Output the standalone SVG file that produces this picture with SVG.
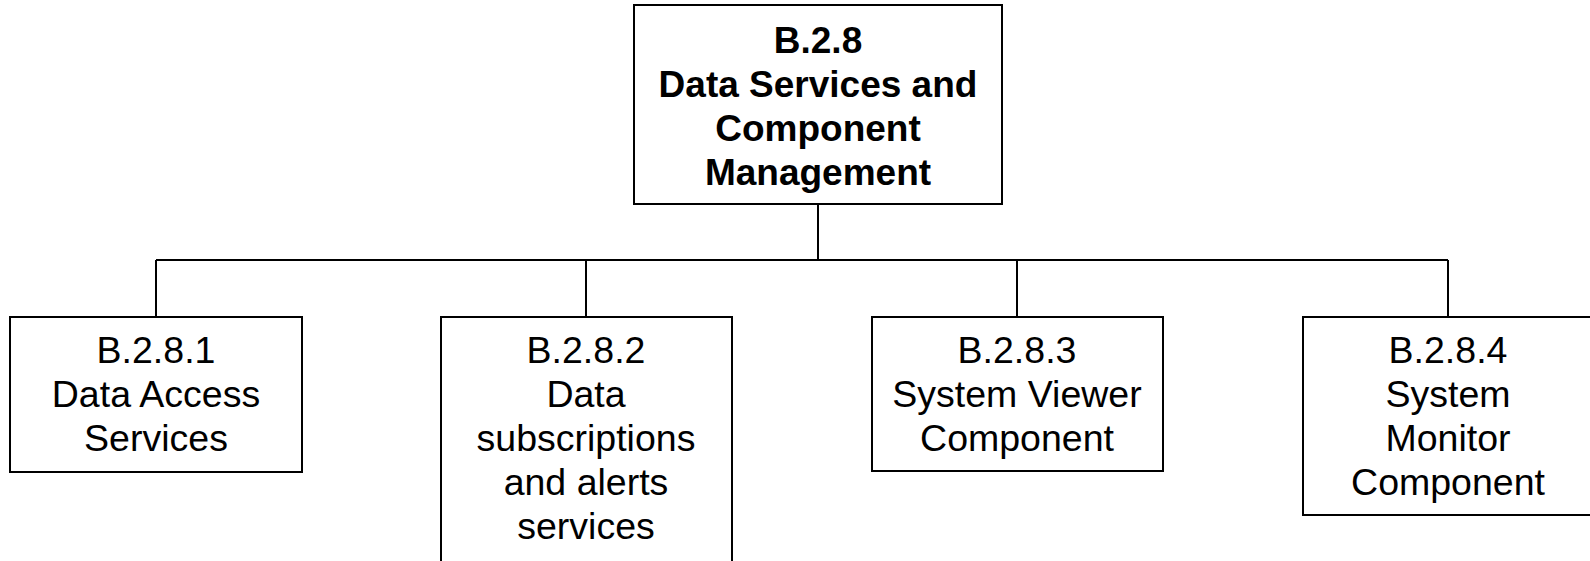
<svg xmlns="http://www.w3.org/2000/svg" width="1590" height="561" viewBox="0 0 1590 561">
<style>
.box{fill:#fff;stroke:#000;stroke-width:2}
.con{fill:none;stroke:#000;stroke-width:2}
text{font-family:"Liberation Sans",Arial,sans-serif;font-size:37.5px;fill:#000;text-anchor:middle}
.b{font-weight:bold;font-size:37px}
</style>
<rect width="1590" height="561" fill="#fff"/>
<g id="connectors">
<path class="con" d="M818 204V260M156 260H1448M156 260V317M586 260V317M1017 260V317M1448 260V317"/>
</g>
<g id="n0">
<rect class="box" x="634" y="5" width="368" height="199"/>
<text class="b" x="818" y="53">B.2.8</text>
<text class="b" x="818" y="97">Data Services and</text>
<text class="b" x="818" y="141">Component</text>
<text class="b" x="818" y="185">Management</text>
</g>
<g id="n1">
<rect class="box" x="10" y="317" width="292" height="155"/>
<text x="156" y="363">B.2.8.1</text>
<text x="156" y="407">Data Access</text>
<text x="156" y="451">Services</text>
</g>
<g id="n2">
<rect class="box" x="441" y="317" width="291" height="250"/>
<text x="586" y="363">B.2.8.2</text>
<text x="586" y="407">Data</text>
<text x="586" y="451">subscriptions</text>
<text x="586" y="495">and alerts</text>
<text x="586" y="539">services</text>
</g>
<g id="n3">
<rect class="box" x="872" y="317" width="291" height="154"/>
<text x="1017" y="363">B.2.8.3</text>
<text x="1017" y="407">System Viewer</text>
<text x="1017" y="451">Component</text>
</g>
<g id="n4">
<rect class="box" x="1303" y="317" width="291" height="198"/>
<text x="1448" y="363">B.2.8.4</text>
<text x="1448" y="407">System</text>
<text x="1448" y="451">Monitor</text>
<text x="1448" y="495">Component</text>
</g>
</svg>
